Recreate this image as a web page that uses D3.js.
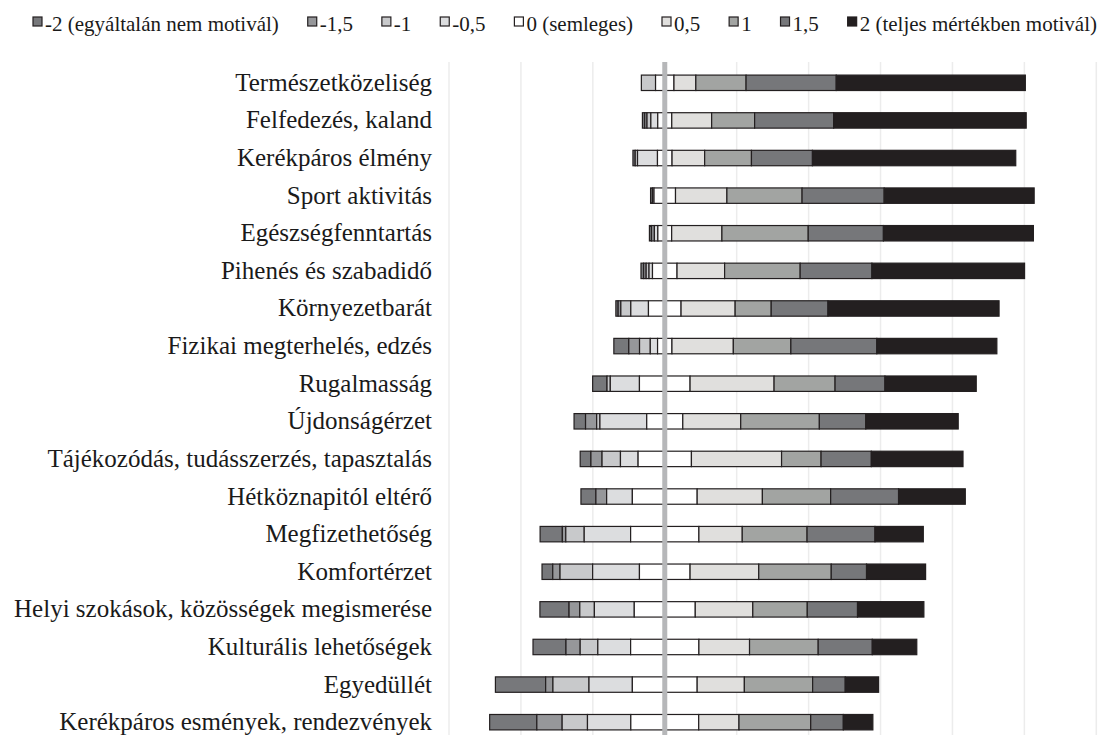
<!DOCTYPE html>
<html><head><meta charset="utf-8">
<script src="https://cdn.jsdelivr.net/npm/d3@7"></script>
<style>body{margin:0;background:#fff}svg{display:block}</style>
</head><body>
<svg id="chart" width="1100" height="735"></svg>
<script>
const categories = [
  "Természetközeliség","Felfedezés, kaland","Kerékpáros élmény","Sport aktivitás",
  "Egészségfenntartás","Pihenés és szabadidő","Környezetbarát","Fizikai megterhelés, edzés",
  "Rugalmasság","Újdonságérzet","Tájékozódás, tudásszerzés, tapasztalás","Hétköznapitól eltérő",
  "Megfizethetőség","Komfortérzet","Helyi szokások, közösségek megismerése","Kulturális lehetőségek",
  "Egyedüllét","Kerékpáros esmények, rendezvények"
];
const levels = ["-2 (egyáltalán nem motivál)","-1,5","-1","-0,5","0 (semleges)","0,5","1","1,5","2 (teljes mértékben motivál)"];
const levelColors = ["#77787b","#96979a","#c8c9cb","#dcdddf","#ffffff","#e0dfdd","#a2a4a2","#76777a","#231f20"];

// percentage of answers per level (row order = categories)
const valM2  = [0, 0.6, 0.6, 0.5, 0.55, 0.7, 0.6, 3.9, 3.75, 3.0, 2.8, 3.9, 5.8, 2.8, 7.6, 8.6, 13.1, 12.3];
const valM15 = [0, 0.6, 0, 0, 0.75, 0.65, 0.7, 2.8, 0, 2.9, 2.9, 2.8, 0.9, 1.9, 2.8, 3.7, 1.9, 6.6];
const valM1  = [3.7, 1.0, 0.6, 0.4, 0, 0.75, 2.6, 2.8, 0.85, 0.85, 4.8, 0, 4.8, 8.5, 3.8, 4.6, 9.4, 6.6];
const valM05 = [0, 1.8, 5.2, 0, 0.9, 0.9, 4.6, 1.9, 7.6, 12.2, 4.6, 6.7, 12.1, 12.2, 10.4, 8.55, 11.3, 11.3];
const valZero= [4.8, 3.65, 3.8, 5.6, 3.6, 6.4, 8.5, 3.75, 13.2, 9.4, 13.9, 16.9, 17.8, 13.2, 15.9, 17.8, 16.9, 17.7];
const valP05 = [5.7, 10.4, 8.5, 13.4, 13.1, 12.4, 14.1, 16.0, 21.9, 15.1, 23.5, 17.0, 11.3, 17.9, 15.0, 13.2, 12.3, 10.5];
const valP1  = [13.1, 11.2, 12.2, 19.6, 22.5, 19.7, 9.4, 15.0, 15.9, 20.5, 10.3, 17.8, 16.9, 18.9, 14.2, 17.9, 17.8, 18.7];
const valP15 = [23.5, 20.6, 15.9, 21.4, 19.6, 18.7, 14.8, 22.4, 13.0, 12.1, 13.1, 17.7, 17.7, 9.2, 13.1, 14.1, 8.5, 8.5];
const valP2  = [49.3, 50.2, 53.0, 39.1, 39.1, 39.8, 44.6, 31.3, 23.8, 24.1, 23.9, 17.4, 12.6, 15.4, 17.3, 11.6, 8.7, 7.7];
const gridTicks = [-56.25, -37.5, -18.75, 0, 18.75, 37.5, 56.25, 75, 93.75, 112.5];

const series = [valM2, valM15, valM1, valM05, valZero, valP05, valP1, valP15, valP2];

const svg = d3.select("#chart");
const FONT = "'Liberation Serif','Times New Roman',serif";

const x = d3.scaleLinear().domain([-56.25, 112.5]).range([449, 1096.3]);
const y = d3.scaleBand().domain(categories).range([64, 741]).paddingInner(0.59).paddingOuter(0.295);

svg.append("g").selectAll("line").data(gridTicks).join("line")
  .attr("x1", d => x(d)).attr("x2", d => x(d))
  .attr("y1", 62).attr("y2", 741)
  .attr("stroke", "#ececec").attr("stroke-width", 1.5);

const segs = [];
categories.forEach((c, i) => {
  const vals = series.map(s => s[i]);
  let start = -(vals[0] + vals[1] + vals[2] + vals[3] + vals[4] / 2);
  vals.forEach((v, k) => {
    segs.push({cat: c, k, x0: start, x1: start + v});
    start += v;
  });
});
svg.append("g").selectAll("rect").data(segs.filter(d => d.x1 - d.x0 > 0)).join("rect")
  .attr("x", d => x(d.x0)).attr("width", d => x(d.x1) - x(d.x0))
  .attr("y", d => y(d.cat)).attr("height", y.bandwidth())
  .attr("fill", d => levelColors[d.k])
  .attr("stroke", "#231f20").attr("stroke-width", 1.2);

svg.append("line")
  .attr("x1", x(0)).attr("x2", x(0)).attr("y1", 62).attr("y2", 741)
  .attr("stroke", "#b6b7b9").attr("stroke-width", 5);

const ax = svg.append("g").attr("transform", "translate(440,0)")
  .call(d3.axisLeft(y).tickSize(0).tickPadding(8));
ax.select(".domain").remove();
ax.selectAll("text").attr("font-family", FONT).attr("font-size", 25).attr("fill", "#1a1a1a");

const lg = svg.append("g");
const items = lg.selectAll("g").data(levels).join("g");
items.append("rect").attr("width", 9).attr("height", 9).attr("y", -14)
  .attr("fill", (d, i) => levelColors[i]).attr("stroke", "#231f20").attr("stroke-width", 1.2);
items.append("text").attr("x", 12).attr("font-family", FONT).attr("font-size", 21)
  .attr("fill", "#1a1a1a").text(d => d);
const widths = [];
items.each(function(){ widths.push(12 + d3.select(this).select("text").node().getComputedTextLength()); });
const lx0 = 33, lx1 = 1097;
const gap = (lx1 - lx0 - d3.sum(widths)) / (levels.length - 1);
let cx = lx0;
items.attr("transform", (d, i) => { const t = `translate(${cx},31)`; cx += widths[i] + gap; return t; });
</script>
</body></html>
